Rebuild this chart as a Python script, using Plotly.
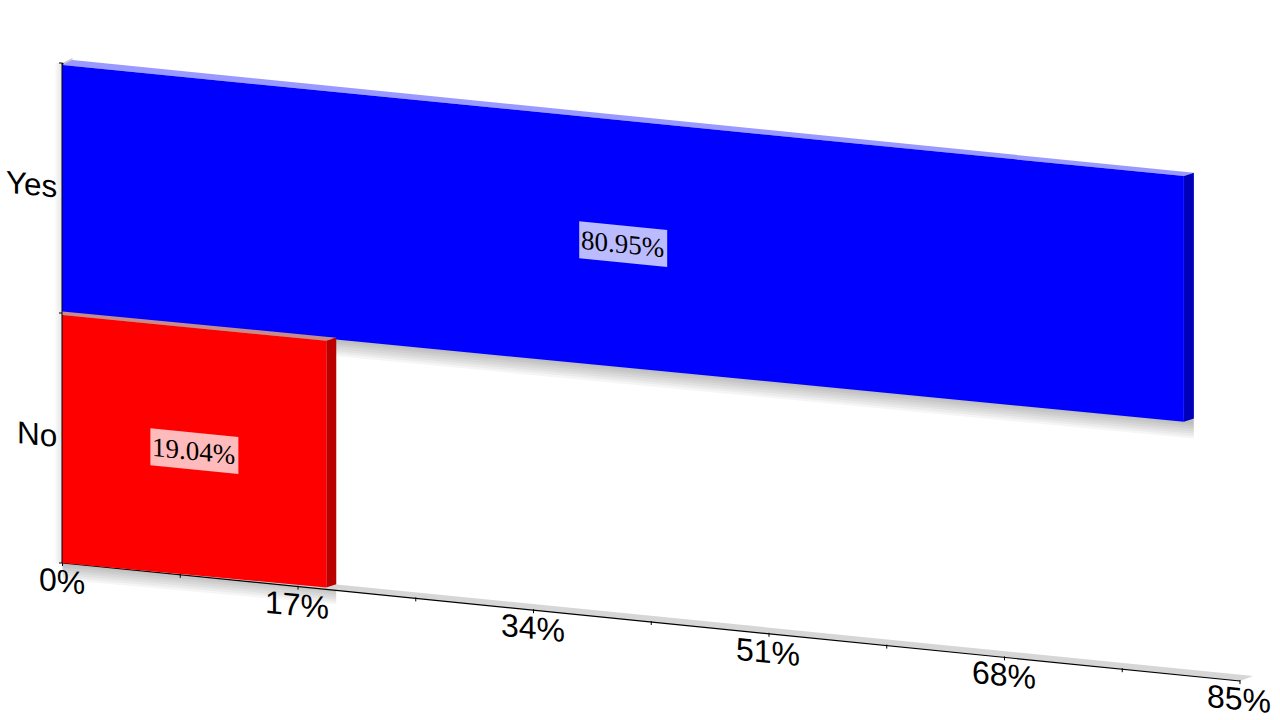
import math
import plotly.graph_objects as go

# ---- chart data ----
categories = ["No", "Yes"]
percent_values = [19.04, 80.95]
bar_labels = ["19.04%", "80.95%"]
major_ticks = [0, 17, 34, 51, 68, 85]
minor_ticks = [8.5, 25.5, 42.5, 59.5, 76.5]
tick_labels = ["0%", "17%", "34%", "51%", "68%", "85%"]
bar_colors = ["#ff0000", "#0000ff"]
side_colors = ["#bb0000", "#0000bb"]
top_colors = ["#c68c8c", "#9999ff"]
label_bg = ["#ffbbbb", "#bbbbff"]

# ---- oblique projection of the chart's (value, category level) plane ----
X0, Y0 = 62.5, 563.0
UNIT = (1240.0 - X0) / 85.0
BAND = 250.0
FLOOR_SLOPE = 0.1002
DEPTH = (10.0, -3.2)
BACK_LEFT = -5.0
ANGLE = math.degrees(math.atan(FLOOR_SLOPE))


def px(v):
    return X0 + v * UNIT


def floor_y(v):
    return Y0 + v * UNIT * FLOOR_SLOPE


def bar_y(v, level, top):
    if top:
        return Y0 - level * BAND + 2 + v * UNIT * (0.097 + 0.001 * level)
    return Y0 - level * BAND + v * UNIT * (0.093 + 0.004 * level)


fig = go.Figure()


def poly(xs, ys, color):
    fig.add_trace(go.Scatter(x=xs + xs[:1], y=ys + ys[:1], mode="lines", fill="toself",
                             fillcolor=color, line=dict(width=0), hoverinfo="skip",
                             showlegend=False))


def line(xs, ys, width=1.0, color="#000000"):
    fig.add_trace(go.Scatter(x=xs, y=ys, mode="lines", line=dict(color=color, width=width),
                             hoverinfo="skip", showlegend=False))


vmax = major_ticks[-1]
dx, dy = DEPTH

# shadows
for k in range(1, 6):
    off = k * 1.6
    poly([px(0) - off, px(0), px(0), px(0) - off],
         [Y0 - 2 * BAND, Y0 - 2 * BAND, Y0, Y0], "rgba(0,0,0,0.02)")
for i, v in enumerate(percent_values):
    for k in range(1, 8):
        off = k * 2.4
        xs = [px(0), px(v) + dx, px(v) + dx, px(0)]
        ys = [bar_y(0, i, False) - 3, bar_y(v, i, False) + dy, bar_y(v, i, False) + off,
              bar_y(0, i, False) + off]
        poly(xs, ys, "rgba(0,0,0,0.038)")

# floor strip and small wall corner
poly([px(0), px(0) + dx, px(vmax) + 13, px(vmax)],
     [floor_y(0), floor_y(0) + BACK_LEFT, floor_y(vmax) - 5, floor_y(vmax)], "#d6d6d6")
poly([px(0), px(0) + dx, px(0) + dx, px(0)],
     [Y0 - 2 * BAND, Y0 - 2 * BAND + BACK_LEFT, Y0 - 2 * BAND + BACK_LEFT + 3, Y0 - 2 * BAND + 3],
     "#c8c8c8")

# axes
line([px(0), px(0)], [Y0 - 2 * BAND, Y0], 2)
line([px(0), px(vmax)], [floor_y(0), floor_y(vmax)], 1.2)
for t in major_ticks + minor_ticks:
    line([px(t), px(t)], [floor_y(t) - 1, floor_y(t) + 3], 1)
for lev in range(3):
    y = Y0 - lev * BAND
    line([px(0) - 3.5, px(0)], [y, y], 1)

# bars: upper band first so the lower one's top face lies over it
for i in reversed(range(len(percent_values))):
    v = percent_values[i]
    x_l, x_r = px(0), px(v)
    yb_l, yb_r = bar_y(0, i, False), bar_y(v, i, False)
    yt_l, yt_r = bar_y(0, i + 1, True), bar_y(v, i + 1, True)
    back_x = x_l + dx * i
    back_y = yt_l + (BACK_LEFT if i else -3.5)
    poly([x_l, x_r, x_r + dx, back_x], [yt_l, yt_r, yt_r + dy, back_y], top_colors[i])
    poly([x_r, x_r + dx, x_r + dx, x_r], [yt_r, yt_r + dy, yb_r + dy, yb_r], side_colors[i])
    poly([x_l, x_r, x_r, x_l], [yt_l, yt_r, yb_r, yb_l], bar_colors[i])

    # value label box centred on the bar face
    cx = px(v / 2)
    cy = Y0 - (i + 0.5) * BAND + (v / 2) * UNIT * FLOOR_SLOPE
    hw, hh = 44.0, 18.5
    s = FLOOR_SLOPE
    poly([cx - hw, cx + hw, cx + hw, cx - hw],
         [cy - hh - hw * s, cy - hh + hw * s, cy + hh + hw * s, cy + hh - hw * s], label_bg[i])

annotations = []
for i, v in enumerate(percent_values):
    annotations.append(dict(
        x=px(v / 2) - 0.5, y=Y0 - (i + 0.5) * BAND + (v / 2) * UNIT * FLOOR_SLOPE,
        text=bar_labels[i], showarrow=False, xanchor="center", yanchor="middle",
        font=dict(family="Liberation Serif", size=27, color="#000000")))
for t, lab in zip(major_ticks, tick_labels):
    annotations.append(dict(
        x=px(t) - 1, y=floor_y(t) + 18, text=lab, showarrow=False,
        xanchor="center", yanchor="middle",
        font=dict(family="Liberation Sans", size=32, color="#000000")))
for i, c in enumerate(categories):
    annotations.append(dict(
        x=px(0) - 4, y=Y0 - (i + 0.5) * BAND - 4, text=c, showarrow=False,
        xanchor="right", yanchor="middle",
        font=dict(family="Liberation Sans", size=31.5, color="#000000")))

fig.update_layout(
    width=1280, height=720, margin=dict(l=0, r=0, t=0, b=0),
    paper_bgcolor="#ffffff", plot_bgcolor="#ffffff", showlegend=False,
    xaxis=dict(range=[0, 1280], visible=False, fixedrange=True),
    yaxis=dict(range=[720, 0], visible=False, fixedrange=True),
    annotations=annotations,
)

# The reference's labels follow the oblique plane: verticals stay upright, baselines slope.
skew_script = """
document.body.style.margin='0';document.body.style.overflow='hidden';
document.querySelectorAll('g.annotation-text-g').forEach(function(g){
  var b=g.getBBox(),cx=b.x+b.width/2,cy=b.y+b.height/2;
  var old=g.getAttribute('transform')||'';
  g.setAttribute('transform',old+' translate('+cx+','+cy+') skewY(%f) translate('+(-cx)+','+(-cy)+')');
});
""" % ANGLE
fig.write_html("out.html", post_script=skew_script, config={"displayModeBar": False})
